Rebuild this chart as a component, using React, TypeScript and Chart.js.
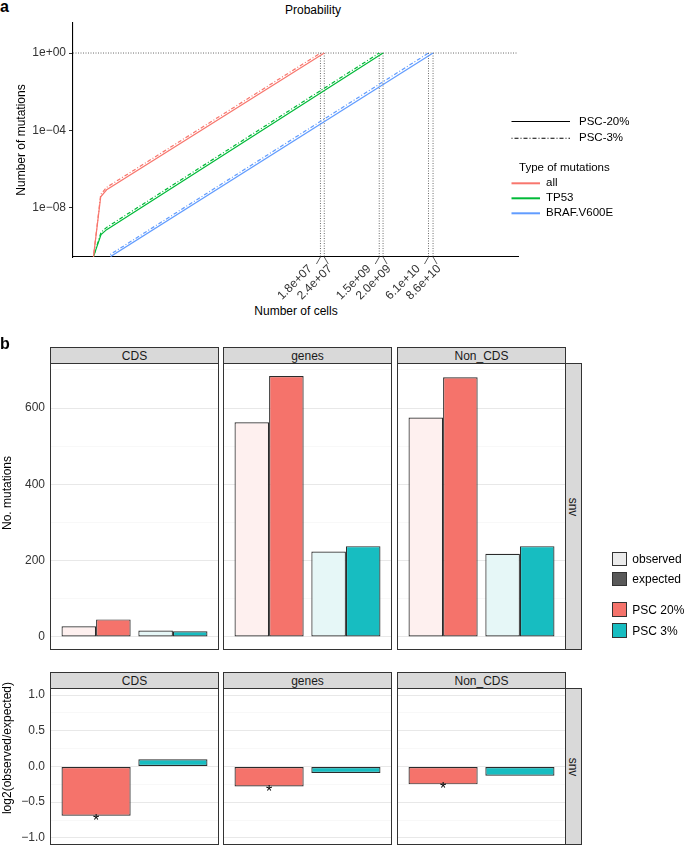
import React, { useEffect, useRef } from 'react';
import { Chart, registerables } from 'chart.js';
Chart.register(...registerables);

const FONT = '"Liberation Sans", Arial, Helvetica, sans-serif';

// ---------------- Panel a : probability curves ----------------
const cellTickValues = [1.8e7, 2.4e7, 1.5e9, 2.0e9, 6.1e10, 8.6e10];
const cellTickLabels = ['1.8e+07', '2.4e+07', '1.5e+09', '2.0e+09', '6.1e+10', '8.6e+10'];
const mutTickValues = [1, 1e-4, 1e-8];
const mutTickLabels = ['1e+00', '1e\u221204', '1e\u221208'];

const allCells20 = [0.69, 1.19, 1.86, 2.4e7];
const allMut20 = [3.1e-11, 3.8e-8, 8.7e-8, 1];
const allCells3 = [0.69, 1.19, 1.86, 1.8e7];
const allMut3 = [3.1e-11, 5.0e-8, 1.17e-7, 1];
const tp53Cells20 = [0.69, 1.22, 1.86, 2.0e9];
const tp53Mut20 = [3.1e-11, 4.2e-10, 7.6e-10, 1];
const tp53Cells3 = [0.69, 1.22, 1.86, 1.5e9];
const tp53Mut3 = [3.1e-11, 5.5e-10, 1.0e-9, 1];
const brafCells20 = [2.5, 8.6e10];
const brafMut20 = [3.1e-11, 1];
const brafCells3 = [2.45, 6.1e10];
const brafMut3 = [4.0e-11, 1];

const mutationTypes = ['all', 'TP53', 'BRAF.V600E'];
const typeColors = ['#F8766D', '#00BA38', '#619CFF'];
const pscLineLabels = ['PSC-20%', 'PSC-3%'];

// ---------------- Panel b : observed vs expected ----------------
const facets = ['CDS', 'genes', 'Non_CDS'];
const groups = ['PSC 20%', 'PSC 3%'];
const observedCDS = [28, 17];
const expectedCDS = [46, 15];
const observedGenes = [563, 224];
const expectedGenes = [684, 238];
const observedNonCDS = [575, 218];
const expectedNonCDS = [681, 238];
const log2CDS = [-0.69, 0.1];
const log2Genes = [-0.28, -0.09];
const log2NonCDS = [-0.25, -0.13];
const sigCDS = ['*', ''];
const sigGenes = ['*', ''];
const sigNonCDS = ['*', ''];

const countMajorTicks = [0, 200, 400, 600];
const countMinorTicks = [100, 300, 500, 700];
const countTickLabels = ['0', '200', '400', '600'];
const ratioMajorTicks = [-1, -0.5, 0, 0.5, 1];
const ratioMinorTicks = [-0.75, -0.25, 0.25, 0.75];
const ratioTickLabels = ['\u22121.0', '\u22120.5', '0.0', '0.5', '1.0'];

const groupColors = ['#F5736B', '#17BDC1'];
const groupLightColors = ['#FEF0EF', '#E6F7F7'];
const fillLegend = ['observed', 'expected'];

const observedByFacet = [observedCDS, observedGenes, observedNonCDS];
const expectedByFacet = [expectedCDS, expectedGenes, expectedNonCDS];
const log2ByFacet = [log2CDS, log2Genes, log2NonCDS];
const sigByFacet = [sigCDS, sigGenes, sigNonCDS];

// ---------------- helpers ----------------
function T({ x, y, children, size = 12, bold = false, anchor = 'middle', rotate = 0, color = '#000' }: any) {
  const tx = anchor === 'start' ? '0' : anchor === 'end' ? '-100%' : '-50%';
  return (
    <div
      style={{
        position: 'absolute', left: x, top: y,
        transform: `translate(${tx}, -50%)${rotate ? ` rotate(${rotate}deg)` : ''}`,
        fontSize: size, fontWeight: bold ? 700 : 400, lineHeight: 1, whiteSpace: 'nowrap',
        color, fontFamily: FONT,
      }}
    >
      {children}
    </div>
  );
}

const probabilityRefPlugin = {
  id: 'probRefs',
  beforeDatasetsDraw(chart: any) {
    const { ctx, chartArea: a, scales } = chart;
    const x = scales.x, y = scales.y;
    const y1 = y.getPixelForValue(1);
    ctx.save();
    ctx.strokeStyle = '#444';
    ctx.lineWidth = 0.8;
    ctx.setLineDash([1, 1.5]);
    ctx.beginPath(); ctx.moveTo(a.left, y1); ctx.lineTo(a.right, y1); ctx.stroke();
    for (const v of cellTickValues) {
      const px = x.getPixelForValue(v);
      ctx.beginPath(); ctx.moveTo(px, y1); ctx.lineTo(px, a.bottom); ctx.stroke();
    }
    ctx.restore();
  },
  afterDraw(chart: any) {
    const { ctx, chartArea: a, scales } = chart;
    const x = scales.x;
    ctx.save();
    ctx.strokeStyle = '#333';
    ctx.lineWidth = 0.8;
    ctx.fillStyle = '#333';
    ctx.font = `12px ${FONT}`;
    cellTickValues.forEach((v, i) => {
      const px = x.getPixelForValue(v);
      const side = i % 2 === 0 ? -1 : 1;
      ctx.beginPath(); ctx.moveTo(px, a.bottom); ctx.lineTo(px + side * 4, a.bottom + 7); ctx.stroke();
      ctx.save();
      ctx.translate(px + side * 8 - 2, a.bottom + 10);
      ctx.rotate(-Math.PI / 4);
      ctx.textAlign = 'right';
      ctx.textBaseline = 'middle';
      ctx.fillText(cellTickLabels[i], 0, 0);
      ctx.restore();
    });
    ctx.restore();
  },
};

function ProbabilityChart() {
  const ref = useRef<HTMLCanvasElement>(null);
  useEffect(() => {
    const mk = (xs: number[], ys: number[], color: string, dashed: boolean) => ({
      data: xs.map((x, i) => ({ x, y: ys[i] })),
      borderColor: color, backgroundColor: color, borderWidth: 1.2,
      borderDash: dashed ? [1, 2, 4, 2] : [], pointRadius: 0, fill: false, tension: 0,
    });
    const chart = new Chart(ref.current as HTMLCanvasElement, {
      type: 'line',
      data: {
        datasets: [
          mk(allCells20, allMut20, typeColors[0], false),
          mk(allCells3, allMut3, typeColors[0], true),
          mk(tp53Cells20, tp53Mut20, typeColors[1], false),
          mk(tp53Cells3, tp53Mut3, typeColors[1], true),
          mk(brafCells20, brafMut20, typeColors[2], false),
          mk(brafCells3, brafMut3, typeColors[2], true),
        ] as any,
      },
      options: {
        animation: false, responsive: false, maintainAspectRatio: false,
        layout: { padding: { top: 23, right: 2, left: 0, bottom: 0 }, autoPadding: false } as any,
        plugins: { legend: { display: false }, tooltip: { enabled: false } },
        scales: {
          x: {
            type: 'logarithmic', position: 'bottom', min: Math.pow(10, -0.83), max: Math.pow(10, 13.71),
            ticks: { display: false }, grid: { display: false },
            border: { display: true, color: '#000', width: 1.1 },
            afterFit: (s: any) => { s.height = 43; s.paddingLeft = 0; s.paddingRight = 0; },
          },
          y: {
            type: 'logarithmic', min: Math.pow(10, -10.53), max: Math.pow(10, 1.55),
            afterBuildTicks: (s: any) => { s.ticks = mutTickValues.map((v) => ({ value: v })); },
            ticks: {
              callback: (_v: any, i: number) => mutTickLabels[i], autoSkip: false,
              font: { family: FONT, size: 12 }, color: '#333', padding: 3,
            },
            grid: { display: true, drawOnChartArea: false, drawTicks: true, tickLength: 4, color: '#333' },
            border: { display: true, color: '#000', width: 1.1 },
            afterFit: (s: any) => { s.width = 73; s.paddingTop = 0; s.paddingBottom = 0; },
          },
        } as any,
      },
      plugins: [probabilityRefPlugin],
    });
    return () => chart.destroy();
  }, []);
  return <canvas ref={ref} width={520} height={300} style={{ position: 'absolute', left: 0, top: 0 }} />;
}

const panelBorderPlugin = {
  id: 'panelBorder',
  afterDraw(chart: any) {
    const { ctx, chartArea: a } = chart;
    ctx.save();
    ctx.strokeStyle = '#333';
    ctx.lineWidth = 1;
    ctx.strokeRect(a.left + 0.5, a.top + 0.5, a.right - a.left - 1, a.bottom - a.top - 1);
    ctx.restore();
  },
};

const starPlugin = {
  id: 'stars',
  afterDatasetsDraw(chart: any, _args: any, opts: any) {
    const sig: string[] = opts && opts.labels;
    if (!sig) return;
    const { ctx } = chart;
    const meta = chart.getDatasetMeta(0);
    ctx.save();
    ctx.fillStyle = '#000';
    ctx.font = `16px ${FONT}`;
    ctx.textAlign = 'center';
    ctx.textBaseline = 'top';
    meta.data.forEach((bar: any, i: number) => {
      if (!sig[i]) return;
      const bottom = Math.max(bar.y, bar.base);
      ctx.fillText(sig[i], bar.x, bottom - 2.3);
    });
    ctx.restore();
  },
};

function FacetChart({ kind, facet, left, top, width, height, axisWidth }: any) {
  const ref = useRef<HTMLCanvasElement>(null);
  useEffect(() => {
    const isCount = kind === 'count';
    const major = isCount ? countMajorTicks : ratioMajorTicks;
    const minor = isCount ? countMinorTicks : ratioMinorTicks;
    const majorLabels = isCount ? countTickLabels : ratioTickLabels;
    const allTicks = [...major, ...minor].sort((a, b) => a - b);
    const barStyle = { borderColor: '#2b2b2b', borderWidth: 1.2, borderSkipped: false, categoryPercentage: 0.9, barPercentage: 1 };
    const datasets = isCount
      ? [
          { label: fillLegend[0], data: groups.map((_g, i) => ({ x: i + 1, y: observedByFacet[facet][i] })), backgroundColor: groupLightColors, ...barStyle },
          { label: fillLegend[1], data: groups.map((_g, i) => ({ x: i + 1, y: expectedByFacet[facet][i] })), backgroundColor: groupColors, ...barStyle },
        ]
      : [
          { label: 'log2', data: groups.map((_g, i) => ({ x: i + 1, y: log2ByFacet[facet][i] })), backgroundColor: groupColors, ...barStyle },
        ];
    const yMin = isCount ? -34.2 : -1.1;
    const yMax = isCount ? 718.2 : 1.1;
    const chart = new Chart(ref.current as HTMLCanvasElement, {
      type: 'bar',
      data: { datasets: datasets as any },
      options: {
        animation: false, responsive: false, maintainAspectRatio: false,
        layout: { padding: 0, autoPadding: false } as any,
        plugins: {
          legend: { display: false }, tooltip: { enabled: false },
          stars: isCount ? {} : { labels: sigByFacet[facet] },
        } as any,
        scales: {
          x: {
            type: 'linear', min: 0.4, max: 2.6, offset: false, bounds: 'data', display: true,
            grid: { display: false, offset: false, drawTicks: false },
            ticks: { display: false },
            border: { display: false },
            afterBuildTicks: (s: any) => { s.ticks = groups.map((_g, i) => ({ value: i + 1 })); },
            afterFit: (s: any) => { s.height = 0; s.paddingLeft = 0; s.paddingRight = 0; },
          },
          y: {
            type: 'linear', min: yMin, max: yMax,
            afterBuildTicks: (s: any) => { s.ticks = allTicks.map((v) => ({ value: v })); },
            ticks: {
              display: axisWidth > 0, autoSkip: false, padding: 5,
              font: { family: FONT, size: 12 }, color: '#333',
              callback: (v: any) => { const i = major.indexOf(v); return i >= 0 ? majorLabels[i] : ''; },
            },
            grid: {
              drawTicks: false,
              color: (c: any) => (c.tick && major.indexOf(c.tick.value) >= 0 ? '#e8e8e8' : '#f3f3f3'),
              lineWidth: (c: any) => (c.tick && major.indexOf(c.tick.value) >= 0 ? 1 : 0.6),
            },
            border: { display: false },
            afterFit: (s: any) => { s.width = axisWidth; s.paddingTop = 0; s.paddingBottom = 0; },
          },
        } as any,
      },
      plugins: [panelBorderPlugin, starPlugin],
    });
    return () => chart.destroy();
  }, []);
  return (
    <canvas
      ref={ref}
      width={width + axisWidth}
      height={height}
      style={{ position: 'absolute', left: left - axisWidth, top }}
    />
  );
}

const stripStyle: any = {
  position: 'absolute', background: '#d9d9d9', border: '1px solid #333', boxSizing: 'border-box',
  display: 'flex', alignItems: 'center', justifyContent: 'center', fontFamily: FONT, fontSize: 12,
  color: '#1a1a1a', lineHeight: 1, whiteSpace: 'nowrap',
};

export default function App() {
  const colLeft = [50, 223, 397];
  const panelW = 169;
  const rows = [
    { kind: 'count', stripTop: 347, top: 363, height: 287 },
    { kind: 'ratio', stripTop: 672, top: 688, height: 157 },
  ];
  return (
    <div style={{ position: 'absolute', left: 0, top: 0, width: 685, height: 846, background: '#fff', overflow: 'hidden', fontFamily: FONT }}>
      {/* Panel a */}
      <T x={0} y={6.5} size={16} bold anchor="start">a</T>
      <T x={313} y={9.5} size={12}>Probability</T>
      <ProbabilityChart />
      <T x={21.3} y={139.5} size={12} rotate={-90}>Number of mutations</T>
      <T x={296} y={311} size={12}>Number of cells</T>
      <svg width={685} height={846} style={{ position: 'absolute', left: 0, top: 0 }}>
        <line x1={511.5} y1={121.5} x2={570} y2={121.5} stroke="#000" strokeWidth={1.1} />
        <line x1={511.5} y1={138.3} x2={570} y2={138.3} stroke="#000" strokeWidth={1.1} strokeDasharray="1 2 4 2" />
        {typeColors.map((c, i) => (
          <line key={c} x1={511.5} y1={183.3 + i * 15} x2={540} y2={183.3 + i * 15} stroke={c} strokeWidth={2} />
        ))}
      </svg>
      <T x={579} y={121.5} size={11.5} anchor="start">{pscLineLabels[0]}</T>
      <T x={579} y={138.3} size={11.5} anchor="start">{pscLineLabels[1]}</T>
      <T x={519} y={167.7} size={11.5} anchor="start">Type of mutations</T>
      {mutationTypes.map((m, i) => (
        <T key={m} x={546} y={183.3 + i * 15} size={11.5} anchor="start">{m}</T>
      ))}

      {/* Panel b */}
      <T x={0} y={344} size={16} bold anchor="start">b</T>
      {rows.map((r) => (
        <React.Fragment key={r.kind}>
          {facets.map((f, fi) => (
            <React.Fragment key={f}>
              <div style={{ ...stripStyle, left: colLeft[fi], top: r.stripTop, width: panelW, height: 17 }}>{f}</div>
              <FacetChart
                kind={r.kind} facet={fi} left={colLeft[fi]} top={r.top} width={panelW} height={r.height}
                axisWidth={fi === 0 ? 50 : 0}
              />
            </React.Fragment>
          ))}
          <div style={{ ...stripStyle, left: 565, top: r.top, width: 17, height: r.height }}>
            <div style={{ transform: 'rotate(90deg)' }}>snv</div>
          </div>
        </React.Fragment>
      ))}
      <T x={6.8} y={493} size={12} rotate={-90}>No. mutations</T>
      <T x={6.8} y={747.5} size={12} rotate={-90}>log2(observed/expected)</T>

      {/* Legend b */}
      {[
        { label: fillLegend[0], color: '#ebebeb', top: 551.5 },
        { label: fillLegend[1], color: '#595959', top: 571.5 },
        { label: groups[0], color: groupColors[0], top: 602.3 },
        { label: groups[1], color: groupColors[1], top: 623.3 },
      ].map((l) => (
        <React.Fragment key={l.label}>
          <div style={{ position: 'absolute', left: 611.7, top: l.top, width: 15, height: 14.5, background: l.color, border: '1px solid #333', boxSizing: 'border-box' }} />
          <T x={632.3} y={l.top + 7.2} size={12} anchor="start">{l.label}</T>
        </React.Fragment>
      ))}
    </div>
  );
}
